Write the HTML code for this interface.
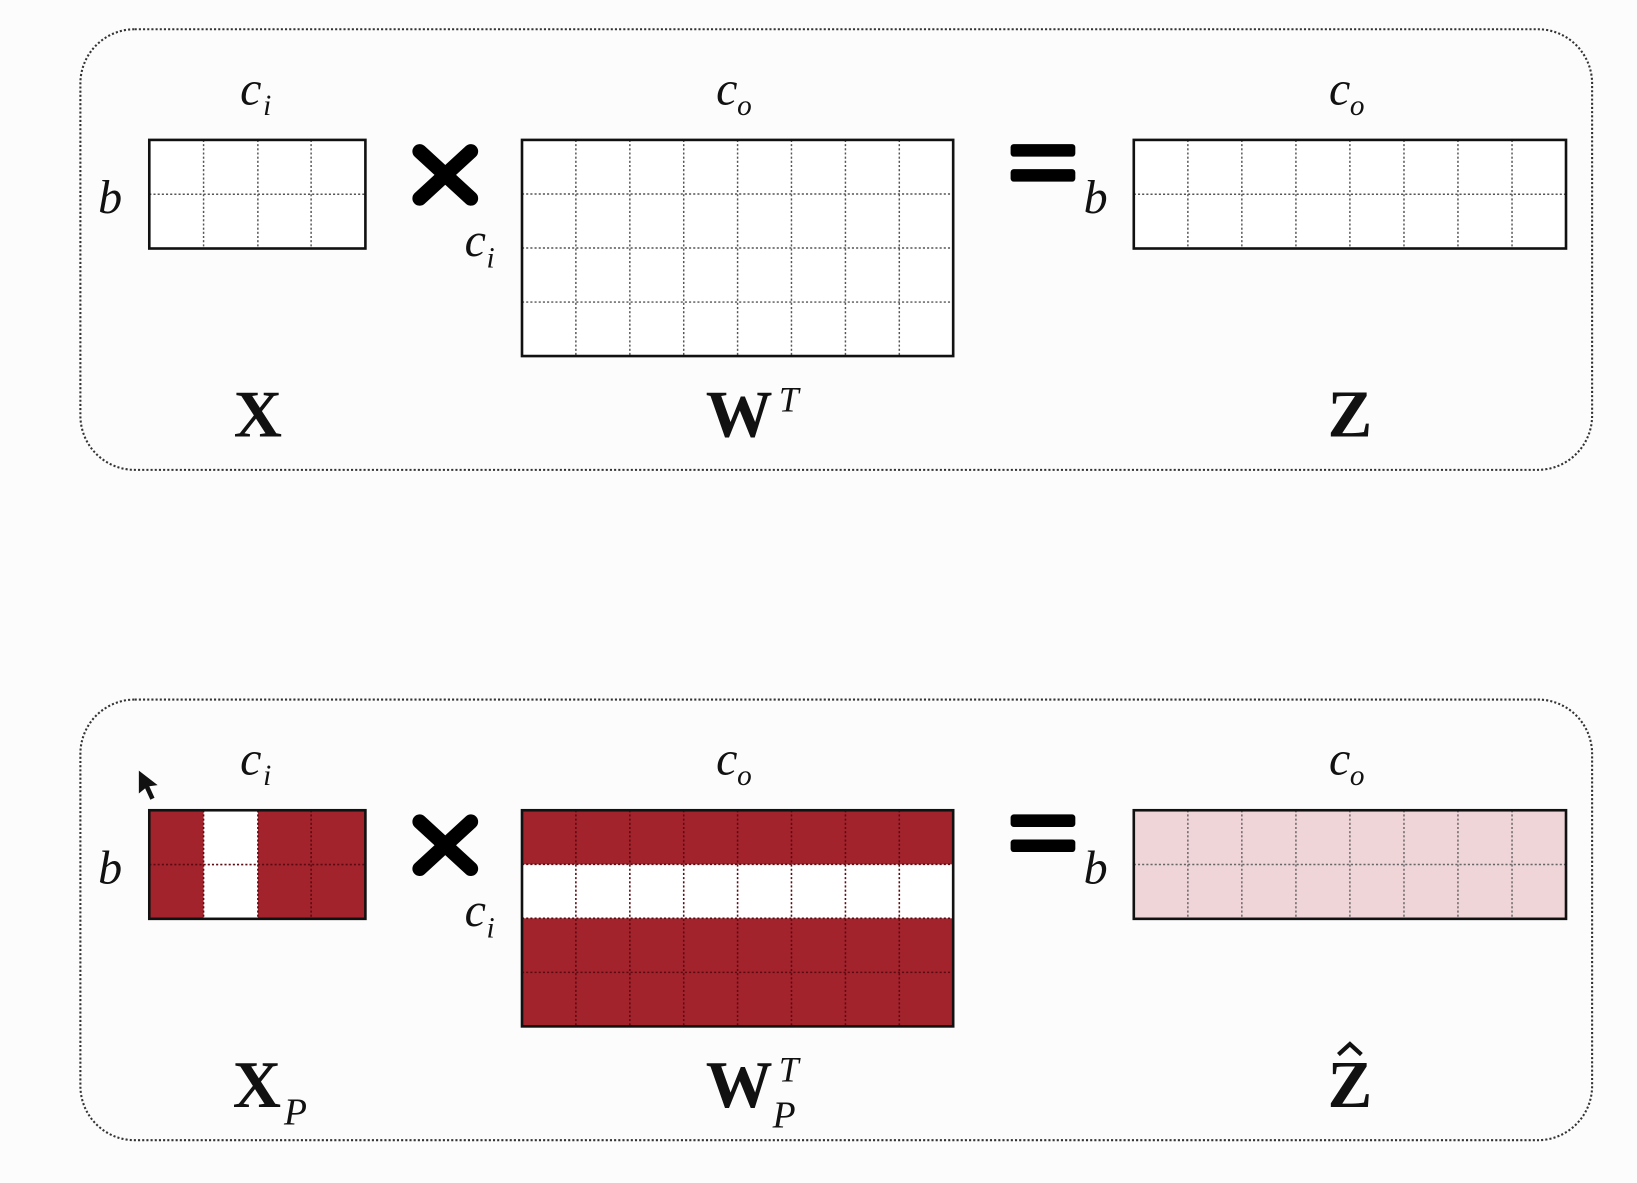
<!DOCTYPE html>
<html><head><style>
html,body{margin:0;padding:0;background:#fcfcfc;}
svg{display:block;}
text{font-family:'Liberation Serif','Times New Roman',Times,serif;fill:#111;}
.it{font-style:italic;}
.bd{font-weight:bold;}
</style></head><body>
<svg width="1637" height="1183" viewBox="0 0 1568 1133" preserveAspectRatio="none" xmlns="http://www.w3.org/2000/svg" font-family="'Liberation Serif', 'Times New Roman', serif">
<rect x="0" y="0" width="1568" height="1133" fill="#fcfcfc"/>

<!-- TOP PANEL -->
<rect x="77" y="28" width="1448" height="422" rx="52" fill="none" stroke="#333" stroke-width="2" stroke-dasharray="2 2"/>
<rect x="143" y="134" width="207" height="104" fill="#fff"/>
<g stroke="#555" stroke-width="1.4" stroke-dasharray="2 2">
<line x1="195" y1="134" x2="195" y2="238"/><line x1="247" y1="134" x2="247" y2="238"/><line x1="298" y1="134" x2="298" y2="238"/>
<line x1="143" y1="186" x2="350" y2="186"/>
</g>
<rect x="143" y="134" width="207" height="104" fill="none" stroke="#111" stroke-width="2.5"/>
<rect x="500" y="134" width="413" height="207" fill="#fff"/>
<g stroke="#555" stroke-width="1.4" stroke-dasharray="2 2">
<line x1="551.6" y1="134" x2="551.6" y2="341"/><line x1="603.3" y1="134" x2="603.3" y2="341"/><line x1="654.9" y1="134" x2="654.9" y2="341"/><line x1="706.5" y1="134" x2="706.5" y2="341"/><line x1="758.1" y1="134" x2="758.1" y2="341"/><line x1="809.8" y1="134" x2="809.8" y2="341"/><line x1="861.4" y1="134" x2="861.4" y2="341"/>
<line x1="500" y1="185.8" x2="913" y2="185.8"/><line x1="500" y1="237.5" x2="913" y2="237.5"/><line x1="500" y1="289.3" x2="913" y2="289.3"/>
</g>
<rect x="500" y="134" width="413" height="207" fill="none" stroke="#111" stroke-width="2.5"/>
<rect x="1086" y="134" width="414" height="104" fill="#fff"/>
<g stroke="#555" stroke-width="1.4" stroke-dasharray="2 2">
<line x1="1137.8" y1="134" x2="1137.8" y2="238"/><line x1="1189.5" y1="134" x2="1189.5" y2="238"/><line x1="1241.3" y1="134" x2="1241.3" y2="238"/><line x1="1293" y1="134" x2="1293" y2="238"/><line x1="1344.8" y1="134" x2="1344.8" y2="238"/><line x1="1396.5" y1="134" x2="1396.5" y2="238"/><line x1="1448.3" y1="134" x2="1448.3" y2="238"/>
<line x1="1086" y1="186" x2="1500" y2="186"/>
</g>
<rect x="1086" y="134" width="414" height="104" fill="none" stroke="#111" stroke-width="2.5"/>
<g stroke="#000" stroke-width="14" stroke-linecap="round">
<line x1="402" y1="145" x2="451" y2="190"/><line x1="451" y1="145" x2="402" y2="190"/>
</g>
<rect x="968" y="138" width="62" height="12" rx="3" fill="#000"/>
<rect x="968" y="162" width="62" height="12" rx="3" fill="#000"/>
<text x="230" y="100" class="it" font-size="46">c</text><text x="252" y="110" class="it" font-size="28">i</text>
<text x="686" y="100" class="it" font-size="46">c</text><text x="706" y="110" class="it" font-size="28">o</text>
<text x="1273" y="100" class="it" font-size="46">c</text><text x="1293" y="110" class="it" font-size="28">o</text>
<text x="94" y="204" class="it" font-size="46">b</text>
<text x="1038" y="204" class="it" font-size="46">b</text>
<text x="445" y="245" class="it" font-size="46">c</text><text x="466" y="256" class="it" font-size="28">i</text>
<text x="247" y="418" class="bd" font-size="64" text-anchor="middle">X</text>
<text x="676" y="418" class="bd" font-size="64">W</text><text x="746" y="394" class="it" font-size="34">T</text>
<text x="1293" y="418" class="bd" font-size="64" text-anchor="middle">Z</text>

<!-- BOTTOM PANEL -->
<rect x="77" y="670" width="1448" height="422" rx="52" fill="none" stroke="#333" stroke-width="2" stroke-dasharray="2 2"/>
<g transform="translate(0,642)">
<rect x="143" y="134" width="207" height="104" fill="#a3232d"/>
<rect x="195" y="134" width="52" height="104" fill="#fff"/>
<g stroke="#5a0a10" stroke-width="1.5" stroke-dasharray="2 2">
<line x1="195" y1="134" x2="195" y2="238"/><line x1="247" y1="134" x2="247" y2="238"/><line x1="298" y1="134" x2="298" y2="238"/>
<line x1="143" y1="186" x2="350" y2="186"/>
</g>
<rect x="143" y="134" width="207" height="104" fill="none" stroke="#111" stroke-width="2.5"/>
<rect x="500" y="134" width="413" height="207" fill="#a3232d"/>
<rect x="500" y="185.8" width="413" height="51.7" fill="#fff"/>
<g stroke="#5a0a10" stroke-width="1.5" stroke-dasharray="2 2">
<line x1="551.6" y1="134" x2="551.6" y2="341"/><line x1="603.3" y1="134" x2="603.3" y2="341"/><line x1="654.9" y1="134" x2="654.9" y2="341"/><line x1="706.5" y1="134" x2="706.5" y2="341"/><line x1="758.1" y1="134" x2="758.1" y2="341"/><line x1="809.8" y1="134" x2="809.8" y2="341"/><line x1="861.4" y1="134" x2="861.4" y2="341"/>
<line x1="500" y1="185.8" x2="913" y2="185.8"/><line x1="500" y1="237.5" x2="913" y2="237.5"/><line x1="500" y1="289.3" x2="913" y2="289.3"/>
</g>
<rect x="500" y="134" width="413" height="207" fill="none" stroke="#111" stroke-width="2.5"/>
<rect x="1086" y="134" width="414" height="104" fill="#efd4d8"/>
<g stroke="#666" stroke-width="1.4" stroke-dasharray="2 2">
<line x1="1137.8" y1="134" x2="1137.8" y2="238"/><line x1="1189.5" y1="134" x2="1189.5" y2="238"/><line x1="1241.3" y1="134" x2="1241.3" y2="238"/><line x1="1293" y1="134" x2="1293" y2="238"/><line x1="1344.8" y1="134" x2="1344.8" y2="238"/><line x1="1396.5" y1="134" x2="1396.5" y2="238"/><line x1="1448.3" y1="134" x2="1448.3" y2="238"/>
<line x1="1086" y1="186" x2="1500" y2="186"/>
</g>
<rect x="1086" y="134" width="414" height="104" fill="none" stroke="#111" stroke-width="2.5"/>
<g stroke="#000" stroke-width="14" stroke-linecap="round">
<line x1="402" y1="145" x2="451" y2="190"/><line x1="451" y1="145" x2="402" y2="190"/>
</g>
<rect x="968" y="138" width="62" height="12" rx="3" fill="#000"/>
<rect x="968" y="162" width="62" height="12" rx="3" fill="#000"/>
<text x="230" y="100" class="it" font-size="46">c</text><text x="252" y="110" class="it" font-size="28">i</text>
<text x="686" y="100" class="it" font-size="46">c</text><text x="706" y="110" class="it" font-size="28">o</text>
<text x="1273" y="100" class="it" font-size="46">c</text><text x="1293" y="110" class="it" font-size="28">o</text>
<text x="94" y="204" class="it" font-size="46">b</text>
<text x="1038" y="204" class="it" font-size="46">b</text>
<text x="445" y="245" class="it" font-size="46">c</text><text x="466" y="256" class="it" font-size="28">i</text>
<text x="223" y="418" class="bd" font-size="64">X</text><text x="272" y="435" class="it" font-size="36">P</text>
<text x="676" y="418" class="bd" font-size="64">W</text><text x="746" y="394" class="it" font-size="34">T</text><text x="740" y="438" class="it" font-size="36">P</text>
<text x="1293" y="418" class="bd" font-size="64" text-anchor="middle">Z</text>
<path d="M1282 368 L1293 358 L1304 368" fill="none" stroke="#111" stroke-width="4"/>
</g>
<path d="M133 738 L133 760 L139 755 L144 766 L148 764 L143 753 L151 752 Z" fill="#111"/>
</svg>
</body></html>
